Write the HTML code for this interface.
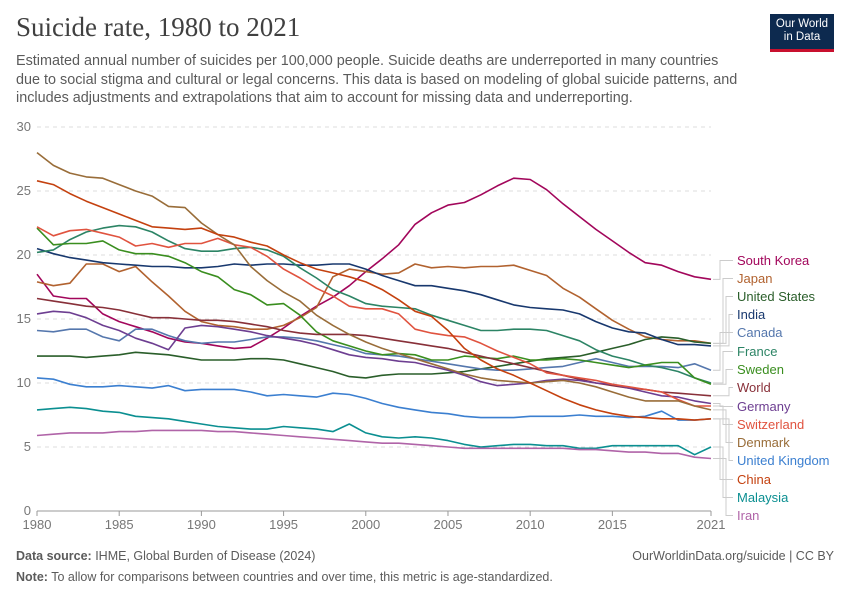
<!DOCTYPE html>
<html><head><meta charset="utf-8"><style>
body{margin:0;background:#fff;font-family:"Liberation Sans",sans-serif;}
#wrap{position:relative;width:850px;height:600px;overflow:hidden;}
.title{position:absolute;left:16px;top:12px;font-family:"Liberation Serif",serif;font-size:27px;color:#404040;}
.sub{position:absolute;left:16px;top:52px;width:730px;font-size:14.4px;line-height:18.5px;color:#5b5b5b;}
.logo{position:absolute;left:770px;top:14px;width:64px;height:38px;background:#0d2a4f;color:#fff;font-size:11.5px;line-height:13px;text-align:center;padding-top:4px;box-sizing:border-box;border-bottom:3px solid #c8102e;}
.foot{position:absolute;left:16px;font-size:12.5px;color:#5b5b5b;}
</style></head><body>
<div id="wrap">
<div class="title">Suicide rate, 1980 to 2021</div>
<div class="sub">Estimated annual number of suicides per 100,000 people. Suicide deaths are underreported in many countries due to social stigma and cultural or legal concerns. This data is based on modeling of global suicide patterns, and includes adjustments and extrapolations that aim to account for missing data and underreporting.</div>
<div class="logo">Our World<br>in Data</div>
<svg id="chart" width="850" height="600" style="position:absolute;left:0;top:0"></svg>
<div class="foot" style="top:549px"><b>Data source:</b> IHME, Global Burden of Disease (2024)</div>
<div class="foot" style="top:549px;left:auto;right:16px">OurWorldinData.org/suicide | CC BY</div>
<div class="foot" style="top:570px"><b>Note:</b> To allow for comparisons between countries and over time, this metric is age-standardized.</div>
</div>
<script>
const startYear=1980;
const yTicks=[0,5,10,15,20,25,30];
const xTicks=[1980,1985,1990,1995,2000,2005,2010,2015,2021];
const seriesNames=["South Korea","Japan","United States","India","Canada","France","Sweden","World","Germany","Switzerland","Denmark","United Kingdom","China","Malaysia","Iran"];
const seriesColors=["#a2065b","#b1622f","#2a5e2a","#18386e","#5577ad","#2c8465","#3a8e1f","#883039","#6d3e91","#e0533f","#996d39","#3b7fd0","#c4410f","#0b8f91","#b064a8"];
const southKorea=[18.5,16.8,16.6,16.6,15.4,14.8,14.4,14.0,13.5,13.2,13.1,12.9,12.7,12.8,13.5,14.3,15.2,16.0,16.7,17.6,18.7,19.7,20.8,22.4,23.3,23.9,24.1,24.7,25.4,26.0,25.9,25.1,24.0,23.0,22.0,21.1,20.2,19.4,19.2,18.7,18.3,18.1];
const japan=[17.9,17.6,17.8,19.3,19.3,18.7,19.1,17.9,16.8,15.6,14.8,14.5,14.4,14.2,14.2,14.5,15.1,15.9,18.3,18.9,18.7,18.5,18.6,19.3,19.0,19.1,19.0,19.1,19.1,19.2,18.8,18.4,17.4,16.7,15.8,14.9,14.2,13.6,13.4,13.3,13.3,13.1];
const unitedStates=[12.1,12.1,12.1,12.0,12.1,12.2,12.4,12.3,12.2,12.0,11.8,11.8,11.8,11.9,11.9,11.8,11.5,11.2,10.9,10.5,10.4,10.6,10.7,10.7,10.7,10.8,10.9,11.1,11.3,11.5,11.7,11.9,12.0,12.1,12.4,12.7,13.0,13.4,13.6,13.5,13.2,13.1];
const india=[20.5,20.1,19.8,19.6,19.4,19.3,19.2,19.1,19.1,19.0,19.0,19.1,19.3,19.2,19.3,19.3,19.2,19.2,19.3,19.3,18.9,18.4,18.0,17.6,17.6,17.4,17.2,16.9,16.5,16.1,15.9,15.8,15.7,15.4,14.8,14.3,14.0,13.9,13.4,13.0,13.0,12.9];
const canada=[14.1,14.0,14.2,14.2,13.6,13.3,14.2,14.2,13.7,13.3,13.1,13.2,13.2,13.4,13.6,13.6,13.5,13.3,13.0,12.7,12.3,12.2,12.1,11.9,11.7,11.5,11.3,11.1,11.0,11.0,11.1,11.2,11.3,11.6,11.9,11.6,11.3,11.3,11.3,11.2,11.5,11.0];
const france=[20.2,20.4,21.2,21.8,22.1,22.3,22.2,21.8,21.1,20.5,20.3,20.3,20.5,20.6,20.4,19.9,19.0,18.2,17.3,16.8,16.2,16.0,15.9,15.8,15.3,14.9,14.5,14.1,14.1,14.2,14.2,14.1,13.7,13.3,12.6,12.1,11.8,11.4,11.2,10.9,10.4,10.0];
const sweden=[22.1,20.8,20.9,20.9,21.1,20.4,20.1,20.1,19.9,19.4,18.7,18.3,17.3,16.9,16.1,16.2,15.3,14.0,13.3,12.9,12.5,12.2,12.3,12.2,11.8,11.8,12.1,12.0,11.9,12.1,11.8,11.8,11.9,11.8,11.6,11.4,11.2,11.4,11.6,11.6,10.4,9.9];
const world=[16.6,16.4,16.2,16.0,15.9,15.7,15.4,15.1,15.1,15.0,14.9,14.9,14.8,14.6,14.4,14.1,13.9,13.8,13.8,13.8,13.7,13.5,13.3,13.1,12.9,12.7,12.4,12.1,11.8,11.5,11.2,10.9,10.6,10.3,10.0,9.8,9.6,9.5,9.3,9.2,9.1,9.0];
const germany=[15.4,15.6,15.5,15.1,14.5,14.1,13.5,13.1,12.6,14.3,14.5,14.4,14.2,14.0,13.7,13.5,13.3,13.0,12.6,12.2,12.0,11.9,11.7,11.6,11.3,11.0,10.6,10.1,9.8,9.9,10.0,10.2,10.3,10.2,10.0,9.9,9.6,9.3,9.0,8.9,8.6,8.4];
const switzerland=[22.2,21.5,21.9,22.0,21.7,21.4,20.7,20.9,20.6,20.9,20.9,21.3,20.8,20.6,19.9,18.9,18.2,17.4,16.8,16.0,15.8,15.8,15.4,14.2,13.9,13.7,13.6,13.1,12.5,12.0,11.5,10.8,10.6,10.4,10.2,9.9,9.7,9.5,9.3,8.7,8.2,8.2];
const denmark=[28.0,27.0,26.4,26.1,26.0,25.5,25.0,24.6,23.8,23.7,22.5,21.6,20.8,19.1,18.0,17.1,16.4,15.3,14.5,13.8,13.2,12.7,12.3,11.9,11.5,11.1,10.7,10.4,10.2,10.1,10.0,10.1,10.2,10.0,9.7,9.3,8.9,8.6,8.6,8.6,8.2,7.9];
const unitedKingdom=[10.4,10.3,9.9,9.7,9.7,9.8,9.7,9.6,9.8,9.4,9.5,9.5,9.5,9.3,9.0,9.1,9.0,8.9,9.2,9.1,8.8,8.4,8.1,7.9,7.7,7.6,7.4,7.3,7.3,7.3,7.4,7.4,7.4,7.5,7.4,7.4,7.3,7.4,7.8,7.1,7.1,7.2];
const china=[25.8,25.5,24.8,24.2,23.7,23.2,22.7,22.2,22.1,22.0,22.1,21.6,21.4,21.0,20.7,20.0,19.4,18.9,18.6,18.3,17.9,17.3,16.5,15.6,15.2,14.1,12.7,11.8,11.1,10.6,10.0,9.4,8.8,8.3,7.9,7.6,7.4,7.3,7.2,7.2,7.1,7.2];
const malaysia=[7.9,8.0,8.1,8.0,7.8,7.7,7.4,7.3,7.2,7.0,6.8,6.6,6.5,6.4,6.4,6.6,6.5,6.4,6.2,6.8,6.1,5.8,5.7,5.8,5.7,5.5,5.2,5.0,5.1,5.2,5.2,5.1,5.1,4.9,4.9,5.1,5.1,5.1,5.1,5.1,4.4,5.0];
const iran=[5.9,6.0,6.1,6.1,6.1,6.2,6.2,6.3,6.3,6.3,6.3,6.2,6.2,6.1,6.0,5.9,5.8,5.7,5.6,5.5,5.4,5.3,5.3,5.2,5.1,5.0,4.9,4.9,4.9,4.9,4.9,4.9,4.9,4.8,4.8,4.7,4.6,4.6,4.5,4.5,4.2,4.1];
const seriesValues=[southKorea,japan,unitedStates,india,canada,france,sweden,world,germany,switzerland,denmark,unitedKingdom,china,malaysia,iran];

const NS="http://www.w3.org/2000/svg";
const svg=document.getElementById('chart');
const X0=37,X1=711,Y0=511,Y1=127;
function xs(yr){return X0+(yr-1980)/(2021-1980)*(X1-X0);}
function ys(v){return Y0-v/30*(Y0-Y1);}
function mk(tag,attrs,parent){const e=document.createElementNS(NS,tag);for(const k in attrs)e.setAttribute(k,attrs[k]);(parent||svg).appendChild(e);return e;}

yTicks.forEach(t=>{
  const g=mk('line',{x1:X0,x2:X1,y1:ys(t),y2:ys(t),stroke:'#ddd','stroke-dasharray':t===0?'':'4,4'});
  
  
  const tx=mk('text',{x:31,y:ys(t)+4,'text-anchor':'end','font-size':13,fill:'#777','font-family':'Liberation Sans'});
  tx.textContent=t;
  
  
});
mk('line',{x1:X0,x2:X1,y1:Y0,y2:Y0,stroke:'#999'});
xTicks.forEach(t=>{
  mk('line',{x1:xs(t),x2:xs(t),y1:Y0,y2:Y0+5,stroke:'#999'});
  const tx=mk('text',{x:xs(t),y:Y0+18,'text-anchor':'middle','font-size':13,fill:'#777','font-family':'Liberation Sans'});
  tx.textContent=t;
  
  
});

const labelYs=[265,283,301,319,337,356,374,392,411,429,447,465,484,502,520];
seriesValues.forEach((vals,i)=>{
  const d=vals.map((v,j)=>(j?'L':'M')+xs(startYear+j).toFixed(1)+','+ys(v).toFixed(1)).join('');
  const p=mk('path',{d:d,fill:'none',stroke:seriesColors[i],'stroke-width':1.6,'stroke-linejoin':'round'});
  
  
  const ey=ys(vals[vals.length-1]);
  const ly=labelYs[i]-4.5;
  const ex=720+(i%4)*3;
  const c=mk('path',{d:`M${X1+2},${ey}H${ex}V${ly}H733`,fill:'none',stroke:'#ccc','stroke-width':1});
  
  
  const t=mk('text',{x:737,y:labelYs[i],'font-size':13,fill:seriesColors[i],'font-family':'Liberation Sans'});
  t.textContent=seriesNames[i];
  
  
});
</script>
</body></html>
